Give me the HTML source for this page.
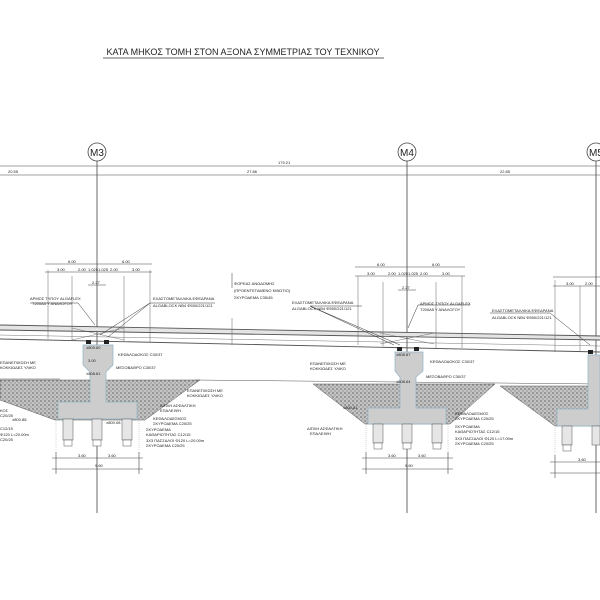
<!DOCTYPE html>
<html><head><meta charset="utf-8"><style>
html,body{margin:0;padding:0;background:#fff}
svg{display:block}
text{font-family:"Liberation Sans","DejaVu Sans",sans-serif;fill:#222}
</style></head><body>
<svg width="600" height="600" viewBox="0 0 600 600" xmlns="http://www.w3.org/2000/svg">
<defs>
<pattern id="dots" width="4" height="4" patternUnits="userSpaceOnUse">
<rect width="4" height="4" fill="#c4c4c4"/>
<circle cx="1" cy="1" r="0.9" fill="#777"/><circle cx="3" cy="3" r="0.7" fill="#888"/>
</pattern>
</defs>
<rect width="600" height="600" fill="#fff"/>
<text x="243" y="55" font-size="9" text-anchor="middle" fill="#333">ΚΑΤΑ ΜΗΚΟΣ ΤΟΜΗ ΣΤΟΝ ΑΞΟΝΑ ΣΥΜΜΕΤΡΙΑΣ ΤΟΥ ΤΕΧΝΙΚΟΥ</text>
<line x1="103" y1="58" x2="384" y2="58" stroke="#333" stroke-width="0.7"/>

<g stroke="#444" fill="none" stroke-width="0.8">
<circle cx="97" cy="152" r="9"/><circle cx="407" cy="152" r="9"/><circle cx="596" cy="152" r="9"/>
<line x1="97" y1="161" x2="97" y2="513"/><line x1="407" y1="161" x2="407" y2="513"/><line x1="596" y1="161" x2="596" y2="513"/>
<line x1="0" y1="166" x2="600" y2="166" stroke-width="0.6"/>
<line x1="0" y1="175" x2="600" y2="175" stroke-width="0.6"/>
</g>
<text x="97" y="156" font-size="10" text-anchor="middle">M3</text>
<text x="407" y="156" font-size="10" text-anchor="middle">M4</text>
<text x="596" y="156" font-size="10" text-anchor="middle">M5</text>
<g font-size="4">
<text x="278" y="164">179.21</text><text x="8" y="173">20.55</text><text x="247" y="173">27.86</text><text x="500" y="173">22.85</text>
</g>

<g fill="url(#dots)" stroke="#555" stroke-width="0.5">
<path d="M0 380 L200 380 L145 420 L55 420 L0 400 Z"/>
<path d="M313 384 L495 384 L450 424 L365 424 Z"/>
<path d="M500 386 L600 386 L600 426 L555 426 Z"/>
</g>
<g stroke="#555" stroke-width="0.5" fill="none">
<line x1="195" y1="380" x2="600" y2="384"/>
<line x1="0" y1="379" x2="60" y2="379"/>
</g>

<path d="M0 325 L600 336 L600 340 L0 330 Z" fill="#e4e4e4"/>
<g stroke="#555" stroke-width="0.9" fill="none">
<line x1="0" y1="325" x2="600" y2="336"/>
<line x1="0" y1="330" x2="600" y2="340"/>
<line x1="0" y1="339" x2="600" y2="352"/>
<line x1="0" y1="335" x2="600" y2="346" stroke-width="0.4"/>
<path d="M72 328 L124 340 M72 340 L124 328 M380 333 L434 344 M380 344 L434 333" stroke-width="0.4"/>
</g>
<g stroke="#666" stroke-width="0.5">
<line x1="48" y1="270" x2="48" y2="339"/><line x1="150" y1="270" x2="150" y2="342"/>
<line x1="72" y1="276" x2="72" y2="340"/><line x1="124" y1="276" x2="124" y2="342"/>
<line x1="358" y1="276" x2="358" y2="345"/><line x1="462" y1="276" x2="462" y2="348"/>
<line x1="383" y1="282" x2="383" y2="346"/><line x1="436" y1="282" x2="436" y2="348"/>
<line x1="555" y1="280" x2="555" y2="352"/><line x1="580" y1="286" x2="580" y2="352"/>
<line x1="232" y1="318" x2="232" y2="345"/>
</g>

<g stroke="#444" stroke-width="0.6">
<line x1="45" y1="264" x2="152" y2="264"/><line x1="45" y1="272" x2="152" y2="272"/><line x1="88" y1="285" x2="106" y2="285"/>
<line x1="355" y1="267" x2="465" y2="267"/><line x1="355" y1="276" x2="465" y2="276"/><line x1="398" y1="290" x2="416" y2="290"/>
<line x1="553" y1="277" x2="600" y2="277"/><line x1="553" y1="286" x2="600" y2="286"/>
</g>
<g font-size="4">
<text x="68" y="263">6.00</text><text x="122" y="263">6.00</text>
<text x="57" y="271">3.00</text><text x="78" y="271">2.00</text><text x="88" y="271">1.025</text><text x="98" y="271">1.025</text><text x="110" y="271">2.00</text><text x="132" y="271">3.00</text>
<text x="92" y="284">2.27</text>
<text x="377" y="266">6.00</text><text x="432" y="266">6.00</text>
<text x="367" y="275">3.00</text><text x="388" y="275">2.00</text><text x="398" y="275">1.025</text><text x="408" y="275">1.025</text><text x="420" y="275">2.00</text><text x="442" y="275">3.00</text>
<text x="402" y="289">2.27</text>
<text x="566" y="285">3.00</text><text x="585" y="285">2.00</text>
</g>

<g stroke="#333" stroke-width="0.5" fill="none">
<path d="M30 303 L78 303 L95 325"/><path d="M150 303 L215 303 M150 303 L100 335 M150 303 L108 337"/>
<path d="M362 306 L310 306 L400 345 M310 306 L394 345"/><path d="M418 305 L470 305 M418 305 L408 328"/>
<path d="M490 313 L550 313 L590 345"/><path d="M232 273 L232 288"/>
</g>
<g font-size="4">
<text x="30" y="300">ΑΡΜΟΣ ΤΥΠΟΥ ALGAFLEX</text><text x="32" y="305">Τ200Α5 Υ ΑΝΑΛΟΓΟΥ</text>
<text x="153" y="300">ΕΛΑΣΤΟΜΕΤΑΛΛΙΚΑ ΕΦΕΔΡΑΝΑ</text><text x="153" y="307">ALGABLOCK NB4 Φ550/221/121</text>
<text x="234" y="285">ΦΟΡΕΑΣ ΑΝΩΔΟΜΗΣ</text><text x="234" y="292">(ΠΡΟΕΝΤΕΤΑΜΕΝΟ ΚΙΒΩΤΙΟ)</text><text x="234" y="299">ΣΚΥΡΟΔΕΜΑ C35/45</text>
<text x="292" y="304">ΕΛΑΣΤΟΜΕΤΑΛΛΙΚΑ ΕΦΕΔΡΑΝΑ</text><text x="292" y="310">ALGABLOCK NB4 Φ550/221/121</text>
<text x="420" y="305">ΑΡΜΟΣ ΤΥΠΟΥ ALGAFLEX</text><text x="420" y="311">Τ200Α5 Υ ΑΝΑΛΟΓΟΥ</text>
<text x="492" y="312">ΕΛΑΣΤΟΜΕΤΑΛΛΙΚΑ ΕΦΕΔΡΑΝΑ</text><text x="492" y="319">ALGABLOCK NB4 Φ550/221/121</text>
<text x="118" y="356">ΚΕΦΑΛΟΔΟΚΟΣ C30/37</text><text x="116" y="369">ΜΕΣΟΒΑΘΡΟ C30/37</text>
<text x="0" y="364">ΕΠΑΝΕΠΙΧΩΣΗ ΜΕ</text><text x="0" y="369">ΚΟΚΚΙΩΔΕΣ ΥΛΙΚΟ</text>
<text x="187" y="392">ΕΠΑΝΕΠΙΧΩΣΗ ΜΕ</text><text x="187" y="397">ΚΟΚΚΙΩΔΕΣ ΥΛΙΚΟ</text>
<text x="160" y="407">ΔΙΠΛΗ ΑΣΦΑΛΤΙΚΗ</text><text x="160" y="412">ΕΠΑΛΕΙΨΗ</text>
<text x="153" y="420">ΚΕΦΑΛΟΔΕΣΜΟΣ</text><text x="153" y="425">ΣΚΥΡΟΔΕΜΑ C20/25</text>
<text x="146" y="431">ΣΚΥΡΟΔΕΜΑ</text><text x="146" y="436">ΚΑΘΑΡΙΟΤΗΤΑΣ C12/15</text>
<text x="146" y="442">3Χ3 ΠΑΣΣΑΛΟΙ Φ120 L=20.00m</text><text x="146" y="447">ΣΚΥΡΟΔΕΜΑ C20/25</text>
<text x="0" y="412">ΚΟΣ</text><text x="0" y="417">C20/25</text><text x="0" y="430">C12/15</text><text x="0" y="436">Φ120 L=20.00m</text><text x="0" y="441">C20/25</text>
<text x="310" y="365">ΕΠΑΝΕΠΙΧΩΣΗ ΜΕ</text><text x="310" y="370">ΚΟΚΚΙΩΔΕΣ ΥΛΙΚΟ</text>
<text x="430" y="363">ΚΕΦΑΛΟΔΟΚΟΣ C30/37</text><text x="426" y="378">ΜΕΣΟΒΑΘΡΟ C30/37</text>
<text x="307" y="430">ΔΙΠΛΗ ΑΣΦΑΛΤΙΚΗ</text><text x="310" y="435">ΕΠΑΛΕΙΨΗ</text>
<text x="455" y="415">ΚΕΦΑΛΟΔΕΣΜΟΣ</text><text x="455" y="420">ΣΚΥΡΟΔΕΜΑ C20/25</text>
<text x="455" y="428">ΣΚΥΡΟΔΕΜΑ</text><text x="455" y="433">ΚΑΘΑΡΙΟΤΗΤΑΣ C12/15</text>
<text x="455" y="440">3Χ3 ΠΑΣΣΑΛΟΙ Φ120 L=17.00m</text><text x="455" y="445">ΣΚΥΡΟΔΕΜΑ C20/25</text>
</g>

<g fill="#cdcdcd" stroke="#8fb3c3" stroke-width="0.7">
<path d="M83 345 L113 345 L113 365 L106 372 L106 402 L137 402 L137 419 L58 419 L58 402 L90 402 L90 372 L83 365 Z"/>
<path d="M395 352 L423 352 L423 371 L416 377 L416 408 L446 408 L446 424 L368 424 L368 408 L400 408 L400 377 L395 371 Z"/>
<path d="M588 355 L600 355 L600 426 L557 426 L557 409 L588 409 Z"/>
</g>
<g fill="#e6e6e6" stroke="#555" stroke-width="0.5">
<rect x="63" y="419" width="10" height="21"/><rect x="92" y="419" width="10" height="21"/><rect x="122" y="419" width="10" height="21"/>
<rect x="64" y="440" width="8" height="6" fill="#fff"/><rect x="93" y="440" width="8" height="6" fill="#fff"/><rect x="123" y="440" width="8" height="6" fill="#fff"/>
<rect x="373" y="424" width="10" height="19"/><rect x="402" y="424" width="10" height="19"/><rect x="432" y="424" width="10" height="19"/>
<rect x="374" y="443" width="8" height="6" fill="#fff"/><rect x="403" y="443" width="8" height="6" fill="#fff"/><rect x="433" y="443" width="8" height="6" fill="#fff"/>
<rect x="562" y="426" width="10" height="19"/><rect x="592" y="426" width="8" height="19"/>
<rect x="563" y="445" width="8" height="6" fill="#fff"/>
</g>
<g stroke="#aaa" stroke-width="0.5" stroke-dasharray="1,1">
<line x1="56" y1="419" x2="56" y2="450"/><line x1="139" y1="419" x2="139" y2="450"/>
<line x1="366" y1="424" x2="366" y2="452"/><line x1="448" y1="424" x2="448" y2="452"/>
<line x1="555" y1="426" x2="555" y2="455"/>
</g>
<g fill="#222"><rect x="86" y="340" width="5" height="4"/><rect x="104" y="340" width="5" height="4"/><rect x="397" y="347" width="5" height="4"/><rect x="414" y="347" width="5" height="4"/><rect x="588" y="350" width="5" height="4"/></g>

<g stroke="#444" stroke-width="0.6">
<line x1="52" y1="458" x2="143" y2="458"/><line x1="52" y1="469" x2="143" y2="469"/>
<line x1="362" y1="458" x2="453" y2="458"/><line x1="362" y1="469" x2="453" y2="469"/>
<line x1="550" y1="462" x2="600" y2="462"/><line x1="550" y1="473" x2="600" y2="473"/>
<line x1="56" y1="452" x2="56" y2="474"/><line x1="139" y1="452" x2="139" y2="474"/>
<line x1="366" y1="452" x2="366" y2="474"/><line x1="448" y1="452" x2="448" y2="474"/>
<line x1="555" y1="455" x2="555" y2="478"/>
</g>
<g font-size="4">
<text x="78" y="457">3.60</text><text x="108" y="457">3.60</text><text x="95" y="467">9.60</text>
<text x="388" y="457">3.60</text><text x="418" y="457">3.60</text><text x="405" y="467">9.60</text>
<text x="578" y="461">3.60</text>
<text x="88" y="362">3.00</text><text x="12" y="421">±800.88</text><text x="106" y="424">±800.08</text>
<text x="86" y="349">±809.60</text><text x="86" y="375">±808.61</text>
<text x="396" y="356">±808.87</text><text x="396" y="383">±808.64</text><text x="343" y="409">±800.81</text>
</g>
</svg>
</body></html>
